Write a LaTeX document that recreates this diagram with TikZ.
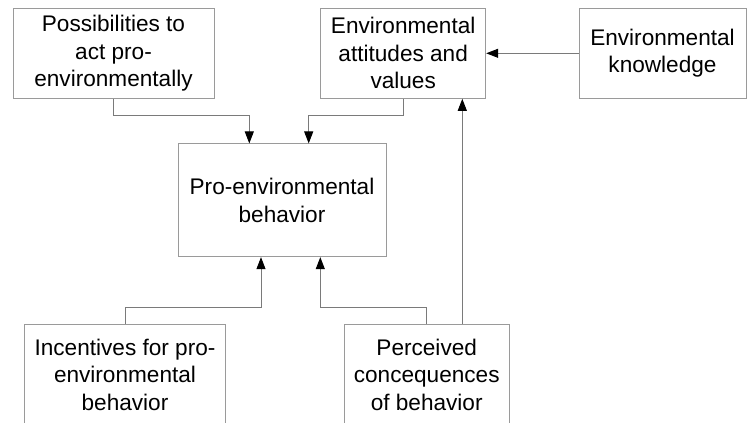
\documentclass[tikz,border=0pt]{standalone}
\usepackage{fontspec}
\setmainfont{Liberation Sans}
\usetikzlibrary{arrows.meta}
\begin{document}
\begin{tikzpicture}[x=1pt,y=-1pt,
  box/.style={draw=boxgray,line width=1pt,fill=white,align=center,inner sep=0pt,
    font=\fontsize{22.6}{27.5}\selectfont},
  conn/.style={draw=linegray,line width=1pt,-{Triangle[length=12pt,width=9pt,fill=black,color=black]}}]
\definecolor{boxgray}{HTML}{9A9A9A}
\definecolor{linegray}{HTML}{7A7A7A}
\useasboundingbox (0,0) rectangle (753,423);
\clip (0,0) rectangle (753,423);
\fill[white] (0,0) rectangle (753,423);
\node[box,minimum width=201pt,minimum height=90pt] (A) at (113.5,53.3) {Possibilities to\\act pro-\\environmentally};
\node[box,minimum width=165pt,minimum height=90pt] (B) at (403.2,53.3) {Environmental\\attitudes and\\values};
\node[box,minimum width=167pt,minimum height=90pt] (C) at (662.5,53.3) {Environmental\\knowledge};
\node[box,minimum width=208pt,minimum height=112.7pt] (D) at (282,200.3) {Pro-environmental\\behavior};
\node[box,minimum width=201.4pt,minimum height=101pt] (E) at (125,374.5) {Incentives for pro-\\environmental\\behavior};
\node[box,minimum width=165.3pt,minimum height=101pt] (F) at (426.7,374.5) {Perceived\\concequences\\of behavior};
\draw[conn] (A.south) -- (A.south |- 0,115) -| ([xshift=-32.7pt]D.north);
\draw[conn] (B.south) -- (B.south |- 0,115) -| ([xshift=26.7pt]D.north);
\draw[conn] (C.west) -- (B.east);
\draw[conn] (E.north) -- (E.north |- 0,307.3) -| ([xshift=-21pt]D.south);
\draw[conn] (F.north) -- (F.north |- 0,307.3) -| ([xshift=38.3pt]D.south);
\draw[conn] ([xshift=35.6pt]F.north) -- ([xshift=59.1pt]B.south);
\end{tikzpicture}
\end{document}
